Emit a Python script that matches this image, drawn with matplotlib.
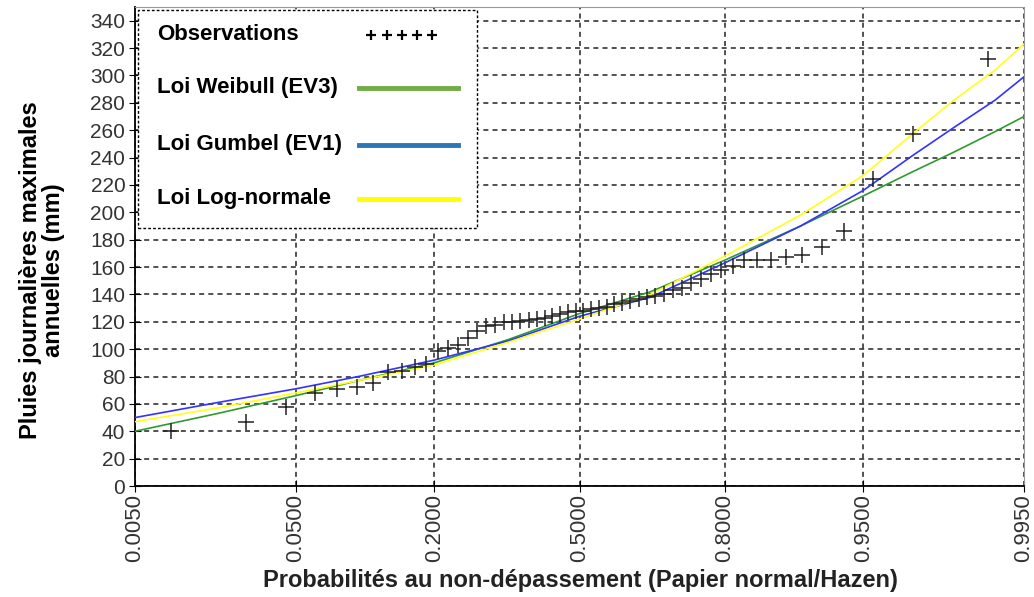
import matplotlib
matplotlib.use("Agg")
import matplotlib.pyplot as plt
from matplotlib.lines import Line2D
from matplotlib.patches import Rectangle
from statistics import NormalDist

# observed annual maximum daily rainfall (mm), sorted, plotted with Hazen positions
obs_values = [40, 47, 58, 68, 71, 72, 75, 83, 84, 87, 89, 99, 100.5, 103, 108, 113,
              117, 118, 119.5, 120, 120.5, 121, 122, 123, 124, 126, 127, 128, 128, 129,
              130, 131, 133, 134, 135.5, 137, 138, 139, 140.5, 143, 145, 148, 151, 155,
              158, 161, 165, 165, 165.5, 167, 169, 175, 186, 224, 257, 312]

# fitted laws read at a few probabilities
curve_probs = [0.005, 0.018, 0.05, 0.1, 0.2, 0.34, 0.5, 0.66, 0.8, 0.9, 0.95,
               0.9736, 0.985, 0.992, 0.995]
weibull = [40, 53, 66, 77, 90, 107, 126, 142, 165, 190, 212, 230, 244, 259, 270]
gumbel = [50, 61, 71, 80, 92, 106, 124, 138, 163, 190, 216, 242, 262, 282, 299]
lognormal = [47, 57, 68, 77, 88.5, 105, 122, 140, 168, 198, 227, 258, 282, 304, 323]

tick_probs = [0.005, 0.05, 0.2, 0.5, 0.8, 0.95, 0.995]
tick_labels = ["0.0050", "0.0500", "0.2000", "0.5000", "0.8000", "0.9500", "0.9950"]

nd = NormalDist()
n = len(obs_values)
obs_z = [nd.inv_cdf((i + 0.5) / n) for i in range(n)]
curve_z = [nd.inv_cdf(p) for p in curve_probs]
tick_z = [nd.inv_cdf(p) for p in tick_probs]

plt.rcParams["font.family"] = ["Liberation Sans", "DejaVu Sans"]

fig = plt.figure(figsize=(10.34, 5.97), dpi=100)
ax = fig.add_axes([135 / 1034, 1 - 486 / 597, 889 / 1034, 479 / 597])

ax.plot(curve_z, weibull, color="#2f9a2f", lw=1.2, zorder=3)
ax.plot(curve_z, gumbel, color="#3333ff", lw=1.2, zorder=3)
ax.plot(curve_z, lognormal, color="#ffff1a", lw=1.2, zorder=3)
ax.plot(obs_z, obs_values, ls="none", marker="+", ms=11, mew=1.1, color="#222222", zorder=4)

ax.set_xlim(tick_z[0], tick_z[-1])
ax.set_ylim(0, 350)
ax.set_yticks(range(0, 341, 20))
ax.set_xticks(tick_z)
ax.set_xticklabels(tick_labels, rotation=90, fontsize=16, color="#333333")
ax.tick_params(axis="y", labelsize=15, direction="inout", length=8, pad=3, labelcolor="#333333")
ax.tick_params(axis="x", direction="inout", length=8, pad=2)

ax.grid(True, color="#333333", ls=(0, (3, 2.5)), lw=1.2)
ax.set_axisbelow(True)
for s in ["top", "right"]:
    ax.spines[s].set_color("#999999")
ax.spines["left"].set_linewidth(1.3)
ax.spines["bottom"].set_linewidth(1.3)

# legend box drawn by hand: labels on the left, handles on the right
ax.add_patch(Rectangle((0.003, 0.539), 0.382, 0.454, transform=ax.transAxes,
                       facecolor="white", edgecolor="black", ls=(0, (2, 1.5)), lw=1, zorder=5))
rows = [0.942, 0.831, 0.712, 0.600]
labels = ["Observations", "Loi Weibull (EV3)", "Loi Gumbel (EV1)", "Loi Log-normale"]
for y, lab in zip(rows, labels):
    ax.text(0.0247, y, lab, transform=ax.transAxes, fontsize=16, fontweight="bold",
            va="center", ha="left", zorder=6)
ax.add_line(Line2D([0.266, 0.283, 0.300, 0.317, 0.334], [rows[0]] * 5, transform=ax.transAxes,
                   ls="none", marker="+", ms=7, mew=1.6, color="black", zorder=6))
for y, c in zip(rows[1:], ["#70ad47", "#2e75b6", "#ffff00"]):
    ax.add_line(Line2D([0.252, 0.363], [y, y], transform=ax.transAxes, color=c, lw=3.5, zorder=6))

fig.text(42 / 1034, 1 - 270 / 597, "Pluies journalières maximales\nannuelles (mm)", rotation=90,
         ha="center", va="center", fontsize=17, fontweight="bold", linespacing=0.95)
fig.text(580 / 1034, 1 - 580 / 597, "Probabilités au non-dépassement (Papier normal/Hazen)",
         ha="center", va="center", fontsize=17, fontweight="bold", color="#222222")

fig.savefig("out.png", dpi=100)
